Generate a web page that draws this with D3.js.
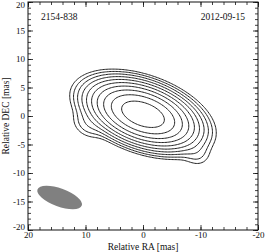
<!DOCTYPE html>
<html>
<head>
<meta charset="utf-8">
<script src="https://cdn.jsdelivr.net/npm/d3@7"></script>
<style>
  body { margin: 0; background: #fff; }
  text { font-family: "Liberation Serif", "DejaVu Serif", serif; fill: #111; }
</style>
</head>
<body>
<svg id="chart" width="266" height="252"></svg>
<script>
// source name / epoch
var sourceName = "2154-838";
var epochLabel = "2012-09-15";

// gaussian components of the clean map (ra, dec in mas, fwhm in mas, pa in deg)
var compRA   = [0.0, -9.3, 9.5];
var compDEC  = [0.3, -6.6, -1.5];
var compFlux = [1.0, 0.0022, 0.003];
var compMaj  = [8.5, 3.5, 4.0];
var compMin  = [4.4, 3.0, 3.0];
var compPA   = [70, 60, 60];

// contour levels, fraction of peak
var contourLevels = [0.0011, 0.0022, 0.0044, 0.0088, 0.0175, 0.035, 0.07, 0.14, 0.28, 0.56];

// restoring beam
var beamRA = 14.5, beamDEC = -14.3, beamMaj = 8.2, beamMin = 3.2, beamPA = 70;

var xMajorTicks = [20, 10, 0, -10, -20];
var yMajorTicks = [20, 15, 10, 5, 0, -5, -10, -15, -20];
var xMinorTicks = d3.range(-20, 21, 2);
var yMinorTicks = d3.range(-20, 21, 1);

var plotLeft = 28, plotRight = 258, plotTop = 2, plotBottom = 230;

var svg = d3.select("#chart");
var x = d3.scaleLinear().domain([20, -20]).range([plotLeft, plotRight]);
var y = d3.scaleLinear().domain([20, -20]).range([plotTop, plotBottom]);

// brightness on a grid
var step = 0.25;
var n = Math.round(40 / step) + 1;
var values = new Array(n * n);
for (var j = 0; j < n; j++) {
    var dec = 20 - j * step;
    for (var i = 0; i < n; i++) {
        var ra = 20 - i * step;
        var v = 0;
        for (var k = 0; k < compRA.length; k++) {
            var th = compPA[k] * Math.PI / 180;
            var dx = ra - compRA[k], dy = dec - compDEC[k];
            var u = dx * Math.sin(th) + dy * Math.cos(th);
            var w = dx * Math.cos(th) - dy * Math.sin(th);
            v += compFlux[k] * Math.exp(-4 * Math.LN2 * (u * u / (compMaj[k] * compMaj[k]) + w * w / (compMin[k] * compMin[k])));
        }
        values[j * n + i] = v;
    }
}

var contours = d3.contours().size([n, n]).thresholds(contourLevels)(values);

var proj = d3.geoTransform({
    point: function(gx, gy) {
        this.stream.point(x(20 - (gx - 0.5) * step), y(20 - (gy - 0.5) * step));
    }
});
var path = d3.geoPath(proj);

svg.append("g")
    .selectAll("path")
    .data(contours)
    .enter().append("path")
    .attr("d", path)
    .attr("fill", "none")
    .attr("stroke", "#222")
    .attr("stroke-width", 1);

// beam
var rx = Math.abs(x(beamMaj / 2) - x(0));
var ry = Math.abs(y(beamMin / 2) - y(0));
svg.append("ellipse")
    .attr("cx", x(beamRA))
    .attr("cy", y(beamDEC))
    .attr("rx", rx)
    .attr("ry", ry)
    .attr("transform", "rotate(" + (90 - beamPA) + "," + x(beamRA) + "," + y(beamDEC) + ")")
    .attr("fill", "#808080");

// axes, ticks pointing inward on all four sides
function styleAxis(g) {
    g.select(".domain").remove();
    g.selectAll("line").attr("stroke", "#111").attr("stroke-width", 0.8);
    g.selectAll("text").attr("font-size", 9).attr("fill", "#111")
        .style("font-family", "Liberation Serif, serif");
}
function fmt(d) { return d < 0 ? "-" + Math.abs(d) : "" + d; }

svg.append("g").attr("transform", "translate(0," + plotBottom + ")")
    .call(d3.axisBottom(x).tickValues(xMajorTicks).tickSize(-5).tickPadding(2).tickFormat(fmt))
    .call(styleAxis);
svg.append("g").attr("transform", "translate(0," + plotBottom + ")")
    .call(d3.axisBottom(x).tickValues(xMinorTicks).tickSize(-3).tickFormat(""))
    .call(styleAxis);
svg.append("g").attr("transform", "translate(0," + plotTop + ")")
    .call(d3.axisTop(x).tickValues(xMajorTicks).tickSize(-5).tickFormat(""))
    .call(styleAxis);
svg.append("g").attr("transform", "translate(0," + plotTop + ")")
    .call(d3.axisTop(x).tickValues(xMinorTicks).tickSize(-3).tickFormat(""))
    .call(styleAxis);

var yAxisG = svg.append("g").attr("transform", "translate(" + plotLeft + ",0)")
    .call(d3.axisLeft(y).tickValues(yMajorTicks).tickSize(-5).tickPadding(3).tickFormat(fmt))
    .call(styleAxis);
// keep the end labels inside the window
yAxisG.selectAll(".tick text").attr("dy", function(d) {
    if (d == 20) return "0.62em";
    if (d == -20) return "-0.1em";
    return "0.32em";
});
svg.append("g").attr("transform", "translate(" + plotLeft + ",0)")
    .call(d3.axisLeft(y).tickValues(yMinorTicks).tickSize(-3).tickFormat(""))
    .call(styleAxis);
svg.append("g").attr("transform", "translate(" + plotRight + ",0)")
    .call(d3.axisRight(y).tickValues(yMajorTicks).tickSize(-5).tickFormat(""))
    .call(styleAxis);
svg.append("g").attr("transform", "translate(" + plotRight + ",0)")
    .call(d3.axisRight(y).tickValues(yMinorTicks).tickSize(-3).tickFormat(""))
    .call(styleAxis);

// frame
svg.append("rect")
    .attr("x", plotLeft).attr("y", plotTop)
    .attr("width", plotRight - plotLeft).attr("height", plotBottom - plotTop)
    .attr("fill", "none").attr("stroke", "#111").attr("stroke-width", 1);

// labels
svg.append("text").attr("x", 41).attr("y", 20).attr("font-size", 9.5).text(sourceName);
svg.append("text").attr("x", 245).attr("y", 20).attr("font-size", 9.5)
    .attr("text-anchor", "end").text(epochLabel);

svg.append("text").attr("x", (plotLeft + plotRight) / 2).attr("y", 249.5)
    .attr("font-size", 9.5).attr("text-anchor", "middle").text("Relative RA [mas]");
svg.append("text")
    .attr("transform", "translate(9," + ((plotTop + plotBottom) / 2) + ") rotate(-90)")
    .attr("font-size", 9.5).attr("text-anchor", "middle").text("Relative DEC [mas]");
</script>
</body>
</html>
